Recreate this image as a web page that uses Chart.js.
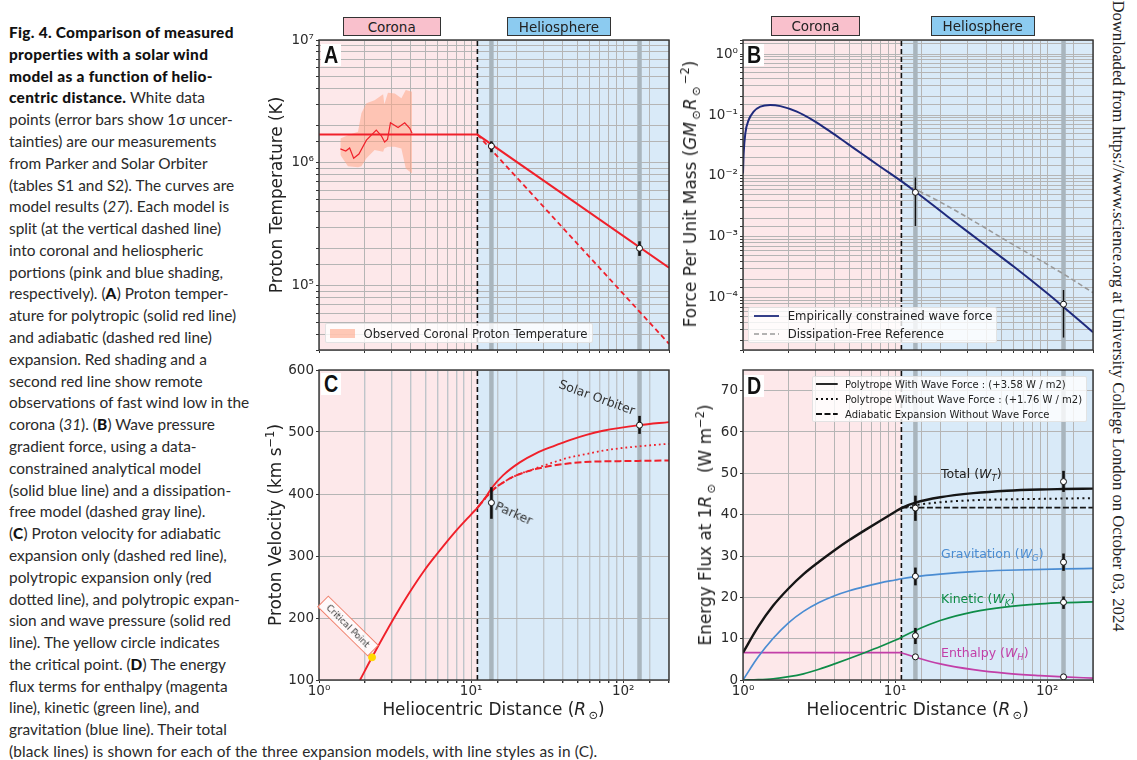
<!DOCTYPE html>
<html>
<head>
<meta charset="utf-8">
<title>Fig. 4</title>
<script src="https://cdn.jsdelivr.net/npm/chart.js@4"></script>
<style>
  html, body { margin: 0; padding: 0; background: #fff; width: 1137px; height: 760px; overflow: hidden; }
  canvas { position: absolute; }
  .lbl { position: absolute; white-space: nowrap; font-family: "DejaVu Sans", sans-serif; color: #222; transform-origin: center; z-index: 3; }
  .lbl sub, .lbl sup { font-size: 68%; line-height: 0; }
  .capline { position: absolute; left: 9px; white-space: nowrap; font-family: Lato, sans-serif; font-size: 15.4px; color: #2a2a2a; transform: translateY(-50%); }
  .capline b { color: #111; font-weight: 900; letter-spacing: 0.3px; }
  .region { position: absolute; box-sizing: border-box; border: 1px solid #333; text-align: center; font: 13.5px/18px "DejaVu Sans", sans-serif; color: #222; z-index: 3; }
  .letter { position: absolute; width: 20px; height: 22px; background: #fff; text-align: center; overflow: hidden; z-index: 3; }
  .letter span { display: block; font: bold 24px/22px "Liberation Sans", sans-serif; color: #111; transform: scaleX(0.82); }
  .legend { position: absolute; box-sizing: border-box; background: rgba(255,255,255,0.8); border: 1px solid rgba(220,220,220,0.8); border-radius: 2px; z-index: 3; }
  .legend div { position: absolute; white-space: nowrap; font-family: "DejaVu Sans", sans-serif; color: #222; transform: translateY(-50%); }
  .legend svg { position: absolute; }
</style>
</head>
<body>
<canvas id="panelA"></canvas>
<canvas id="panelB"></canvas>
<canvas id="panelC"></canvas>
<canvas id="panelD"></canvas>
<script>
// radial positions shared by all four panels (solar radii)
const xMin = 1, xMax = 200;
const splitR = 11;
const parkerR = 13.6, orbiterR = 128;

// A: proton temperature
const tempYRange = [3e4, 1e7];
const polyTempR = [1, 11, 200];
const polyTemp = [1.7e6, 1.7e6, 1.4e5];
const adiaTempR = [11, 200];
const adiaTemp = [1.7e6, 3.37e4];
const obsBandR = [1.382, 1.55, 1.805, 1.9, 2.05, 2.32, 2.64, 2.69, 2.84, 3.15, 3.48, 3.72, 4.09];
const obsBandHigh = [1.58e6, 1.68e6, 1.79e6, 2.53e6, 3.05e6, 3.24e6, 3.61e6, 3.0e6, 3.72e6, 3.67e6, 3.35e6, 3.91e6, 3.79e6];
const obsBandLow = [1.16e6, 9.4e5, 9.2e5, 9.4e5, 1.09e6, 1.27e6, 1.23e6, 1.31e6, 1.35e6, 1.35e6, 1.31e6, 9.0e5, 8.2e5];
const obsTempR = [1.382, 1.5, 1.59, 1.69, 1.83, 2.05, 2.38, 2.57, 2.7, 2.82, 2.95, 3.31, 3.66, 3.95, 4.09];
const obsTemp = [1.3e6, 1.25e6, 1.32e6, 1.09e6, 1.18e6, 1.53e6, 1.85e6, 1.66e6, 1.48e6, 1.55e6, 2.12e6, 1.94e6, 2.12e6, 1.91e6, 1.74e6];
const tempPoints = [1.37e6, 2.02e5];
const tempErrLow = [1.22e6, 1.75e5];
const tempErrHigh = [1.5e6, 2.3e5];

// B: force per unit mass
const forceYRange = [1.4e-5, 1.7];
const waveForceR = [1, 1.01, 1.036, 1.09, 1.175, 1.3, 1.51, 1.76, 2.26, 2.91, 3.75, 4.83, 6.21, 8, 11.1, 13.7, 21.9, 36.3, 60.2, 100, 128, 200];
const waveForce = [1.1e-2, 2.35e-2, 5e-2, 8.3e-2, 0.1135, 0.137, 0.146, 0.14, 0.1135, 0.081, 0.0533, 0.0343, 0.0221, 0.0142, 8.07e-3, 5.47e-3, 2.21e-3, 8.5e-4, 3.27e-4, 1.19e-4, 7.1e-5, 2.74e-5];
const freeForceR = [11.5, 13.7, 21.9, 36.3, 60.2, 100, 128, 200];
const freeForce = [7.3e-3, 6e-3, 3.26e-3, 1.57e-3, 7.4e-4, 3.56e-4, 2.47e-4, 1.22e-4];
const forcePoints = [5.4e-3, 7.9e-5];
const forceErrLow = [1.51e-3, 2.24e-5];
const forceErrHigh = [9.4e-3, 1.35e-4];

// C: proton velocity
const speedYRange = [100, 600];
const waveSpeedR = [1.861, 2.232, 3.113, 3.946, 4.95, 5.82, 7.8, 10.05, 11.1, 12.72, 13.7, 16.2, 20.9, 26.9, 34.6, 44.5, 57.3, 73.6, 128, 200];
const waveSpeed = [100, 136.6, 200, 241.4, 277.4, 300, 338.2, 367.7, 379, 398, 410, 430, 451, 466, 477, 487, 495.5, 502, 511, 516];
const polySpeedR = [11.1, 13.7, 16.6, 19.8, 24.3, 34.6, 44.5, 60.2, 73.6, 122, 200];
const polySpeed = [379, 405, 420, 430, 438, 451, 459, 465.5, 470, 476.5, 481];
const adiaSpeedR = [11.1, 13.7, 16.6, 19.8, 24.3, 27.5, 34.6, 44.5, 60.2, 94.8, 200];
const adiaSpeed = [379, 405, 420, 430, 437.5, 441, 446, 449.5, 452, 453, 454];
const speedPoints = [386, 511];
const speedErrLow = [360, 497];
const speedErrHigh = [411, 526];
const criticalR = [2.232];
const criticalSpeed = [136.6];

// D: energy flux
const fluxYRange = [0, 75];
const totalWaveR = [1, 1.26, 1.58, 2, 2.5, 3.16, 4, 5, 6.3, 8, 10, 11, 13.6, 19.8, 32.7, 54.2, 89.7, 128, 200];
const totalWave = [6.6, 12.9, 18, 22.2, 25.6, 28.6, 31.4, 33.85, 36.2, 38.55, 40.7, 41.6, 42.9, 44.2, 45.2, 45.8, 46.1, 46.2, 46.3];
const totalPolyR = [11, 13.6, 19.8, 32.7, 54.2, 128, 200];
const totalPoly = [41.7, 42.3, 43, 43.5, 43.7, 43.9, 44];
const totalAdiaR = [11, 200];
const totalAdia = [41.7, 41.7];
const gravR = [1, 1.26, 1.58, 2, 2.5, 3.16, 4, 5, 6.3, 8, 10, 11, 13.6, 19.8, 32.7, 54.2, 128, 200];
const grav = [0, 5.6, 10.1, 13.9, 16.6, 18.75, 20.4, 21.6, 22.6, 23.5, 24.2, 24.5, 25, 25.6, 26.2, 26.55, 26.9, 27];
const kineticR = [1, 1.26, 1.58, 2, 2.5, 3.16, 4, 5, 6.3, 8, 10, 11, 13.6, 19.8, 32.7, 54.2, 89.7, 128, 200];
const kinetic = [0, 0.08, 0.3, 0.8, 1.5, 2.6, 3.9, 5.2, 6.6, 8.1, 9.6, 10.3, 12, 14.4, 16.5, 17.7, 18.4, 18.7, 18.9];
const enthalpyFlatR = [1, 11];
const enthalpyFlat = [6.6, 6.6];
const enthalpyR = [11, 13.6, 19.8, 32.7, 54.2, 89.7, 128, 200];
const enthalpy = [6.6, 5.5, 3.9, 2.5, 1.6, 1.05, 0.75, 0.45];
const totalPoints = [41.6, 48];
const totalErrLow = [38.5, 45.5];
const totalErrHigh = [44.6, 50.6];
const gravPoints = [25.1, 28.5];
const gravErrLow = [22.9, 26.4];
const gravErrHigh = [27.2, 30.6];
const kineticPoints = [10.7, 18.8];
const kineticErrLow = [8.7, 17.2];
const kineticErrHigh = [12.6, 20.2];
const enthalpyPoints = [5.6, 0.75];

const captionLines = [
  '<b>Fig. 4. Comparison of measured</b>',
  '<b>properties with a solar wind</b>',
  '<b>model as a function of helio-</b>',
  '<b>centric distance.</b> White data',
  'points (error bars show 1σ uncer-',
  'tainties) are our measurements',
  'from Parker and Solar Orbiter',
  '(tables S1 and S2). The curves are',
  'model results (<i>27</i>). Each model is',
  'split (at the vertical dashed line)',
  'into coronal and heliospheric',
  'portions (pink and blue shading,',
  'respectively). (<b>A</b>) Proton temper-',
  'ature for polytropic (solid red line)',
  'and adiabatic (dashed red line)',
  'expansion. Red shading and a',
  'second red line show remote',
  'observations of fast wind low in the',
  'corona (<i>31</i>). (<b>B</b>) Wave pressure',
  'gradient force, using a data-',
  'constrained analytical model',
  '(solid blue line) and a dissipation-',
  'free model (dashed gray line).',
  '(<b>C</b>) Proton velocity for adiabatic',
  'expansion only (dashed red line),',
  'polytropic expansion only (red',
  'dotted line), and polytropic expan-',
  'sion and wave pressure (solid red',
  'line). The yellow circle indicates',
  'the critical point. (<b>D</b>) The energy',
  'flux terms for enthalpy (magenta',
  'line), kinetic (green line), and',
  'gravitation (blue line). Their total',
  '<span style="letter-spacing:0.15px">(black lines) is shown for each of the three expansion models, with line styles as in (C).</span>',
];

const RED = '#f0202a', NAVY = '#1f2a7c', GREY = '#9a9a9a', BLACK = '#151515';
const BLUE = '#4a8cd2', GREEN = '#0e8c48', MAGENTA = '#c23fa8', BAND = '#a9b5bd';
const PINK_BG = '#fde8ea', BLUE_BG = '#d9eaf8', GRID = '#b5b5b5';

function pts(xs, ys) {
  return xs.map((x, i) => ({ x, y: ys[i] }));
}

function curve(xs, ys, color, width, dash, smooth) {
  return {
    data: pts(xs, ys),
    borderColor: color,
    borderWidth: width,
    borderDash: dash || [],
    pointRadius: 0,
    fill: false,
    cubicInterpolationMode: smooth ? 'monotone' : 'default',
    tension: 0,
  };
}

function vline(x, range, color, width, dash) {
  return curve([x, x], range, color, width, dash, false);
}

// white dots at the two spacecraft distances
function dots(ys, radius) {
  return {
    data: pts([parkerR, orbiterR], ys),
    showLine: false,
    pointRadius: radius,
    pointBackgroundColor: '#fff',
    pointBorderColor: '#111',
    pointBorderWidth: 1,
  };
}

function errBars(low, high, width) {
  return [
    curve([parkerR, parkerR], [low[0], high[0]], '#111', width),
    curve([orbiterR, orbiterR], [low[1], high[1]], '#111', width),
  ];
}

function guides(range) {
  return [
    vline(splitR, range, '#111', 1.6, [5, 3]),
    vline(parkerR, range, BAND, 4.5),
    vline(orbiterR, range, BAND, 4.5),
  ];
}

const panelPlugin = {
  id: 'panel',
  beforeDraw(chart) {
    const { ctx, chartArea: a, scales } = chart;
    const split = scales.x.getPixelForValue(splitR);
    ctx.save();
    ctx.fillStyle = PINK_BG;
    ctx.fillRect(a.left, a.top, split - a.left, a.bottom - a.top);
    ctx.fillStyle = BLUE_BG;
    ctx.fillRect(split, a.top, a.right - split, a.bottom - a.top);
    ctx.restore();
  },
  afterDraw(chart) {
    const { ctx, chartArea: a } = chart;
    ctx.save();
    ctx.strokeStyle = '#333';
    ctx.lineWidth = 1.4;
    ctx.strokeRect(a.left, a.top, a.right - a.left, a.bottom - a.top);
    ctx.restore();
  },
};

const SUP = { '-': '⁻', 0: '⁰', 1: '¹', 2: '²', 3: '³', 4: '⁴', 5: '⁵', 6: '⁶', 7: '⁷' };

function powerLabel(v) {
  const e = Math.log10(v);
  if (Math.abs(e - Math.round(e)) > 1e-9) return '';
  return '10' + String(Math.round(e)).split('').map(c => SUP[c]).join('');
}

function isPower(v) {
  return powerLabel(v) !== '';
}

function makePanel(id, left, top, showX, yOpts, datasets) {
  const el = document.getElementById(id);
  const w = 60 + 350 + 10, h = 12 + 310 + 24;
  el.style.left = (left - 60) + 'px';
  el.style.top = (top - 12) + 'px';
  el.style.width = w + 'px';
  el.style.height = h + 'px';
  el.width = w;
  el.height = h;

  const tickFont = { family: 'DejaVu Sans', size: 13.5 };
  new Chart(el, {
    type: 'line',
    data: { datasets },
    plugins: [panelPlugin],
    options: {
      responsive: false,
      animation: false,
      events: [],
      layout: { padding: { left: 0, right: 10, top: 12, bottom: 0 } },
      plugins: { legend: { display: false }, tooltip: { enabled: false } },
      scales: {
        x: {
          type: 'logarithmic',
          min: xMin,
          max: xMax,
          afterFit(scale) { scale.height = 24; },
          grid: {
            color: ctx => (ctx.tick && isPower(ctx.tick.value) ? GRID : yOpts.minorX || GRID),
            lineWidth: yOpts.minorXWidth ? (ctx => (ctx.tick && isPower(ctx.tick.value) ? 1 : yOpts.minorXWidth)) : 1,
            tickColor: '#333',
            tickLength: 3,
          },
          border: { display: false },
          ticks: {
            display: showX,
            color: '#2b2b2b',
            font: tickFont,
            padding: 0,
            autoSkip: false,
            maxRotation: 0,
            callback: powerLabel,
          },
        },
        y: {
          ...yOpts.scale,
          afterFit(scale) { scale.width = 60; },
          grid: { color: GRID, tickColor: '#333', tickLength: 3, lineWidth: 1 },
          border: { display: false },
          ticks: {
            color: '#2b2b2b',
            font: tickFont,
            padding: 2,
            autoSkip: false,
            includeBounds: false,
            maxRotation: 0,
            ...(yOpts.ticks || {}),
          },
        },
      },
    },
  });
}

const LEFT_X = 319.3, RIGHT_X = 742.7, TOP_Y = 40, LOW_Y = 369.6;

makePanel('panelA', LEFT_X, TOP_Y, false, {
  scale: { type: 'logarithmic', min: tempYRange[0], max: tempYRange[1] },
  ticks: { callback: powerLabel },
}, [
  dots(tempPoints, 3),
  ...errBars(tempErrLow, tempErrHigh, 2.6),
  curve(polyTempR, polyTemp, RED, 2),
  curve(adiaTempR, adiaTemp, RED, 1.8, [5, 3.5]),
  curve(obsTempR, obsTemp, RED, 1.2),
  { ...curve(obsBandR, obsBandHigh, 'rgba(0,0,0,0)', 0), fill: '+1', backgroundColor: 'rgba(255,165,135,0.55)' },
  curve(obsBandR, obsBandLow, 'rgba(0,0,0,0)', 0),
  ...guides(tempYRange),
]);

makePanel('panelB', RIGHT_X, TOP_Y, false, {
  scale: { type: 'logarithmic', min: forceYRange[0], max: forceYRange[1] },
  ticks: { callback: powerLabel },
}, [
  dots(forcePoints, 3),
  ...errBars(forceErrLow, forceErrHigh, 1.4),
  curve(waveForceR, waveForce, NAVY, 2, null, true),
  curve(freeForceR, freeForce, GREY, 1.6, [5, 3], true),
  ...guides(forceYRange),
]);

makePanel('panelC', LEFT_X, LOW_Y, true, {
  scale: { type: 'linear', min: speedYRange[0], max: speedYRange[1] },
  ticks: { stepSize: 100 },
  minorX: '#bfc5ca',
  minorXWidth: 1.4,
}, [
  dots(speedPoints, 3),
  ...errBars(speedErrLow, speedErrHigh, 2.6),
  { data: pts(criticalR, criticalSpeed), showLine: false, pointRadius: 3.5, pointBackgroundColor: '#ffd800', pointBorderColor: '#ffd800' },
  curve(waveSpeedR, waveSpeed, RED, 1.9, null, true),
  curve(polySpeedR, polySpeed, RED, 1.8, [1.8, 3], true),
  curve(adiaSpeedR, adiaSpeed, RED, 2, [7, 3], true),
  ...guides(speedYRange),
]);

makePanel('panelD', RIGHT_X, LOW_Y, true, {
  scale: { type: 'linear', min: fluxYRange[0], max: fluxYRange[1] },
  ticks: { stepSize: 10 },
}, [
  dots(totalPoints, 3),
  dots(gravPoints, 3),
  dots(kineticPoints, 3),
  dots(enthalpyPoints, 3),
  ...errBars(totalErrLow, totalErrHigh, 2.6),
  ...errBars(gravErrLow, gravErrHigh, 2.6),
  ...errBars(kineticErrLow, kineticErrHigh, 2.6),
  curve(totalWaveR, totalWave, BLACK, 2.4, null, true),
  curve(totalPolyR, totalPoly, BLACK, 2, [2, 3.5], true),
  curve(totalAdiaR, totalAdia, BLACK, 1.8, [6, 2.5]),
  curve(gravR, grav, BLUE, 1.7, null, true),
  curve(kineticR, kinetic, GREEN, 1.7, null, true),
  curve(enthalpyFlatR, enthalpyFlat, MAGENTA, 1.7),
  curve(enthalpyR, enthalpy, MAGENTA, 1.7, null, true),
  ...guides(fluxYRange),
]);

// text around the plots
function label(html, x, y, size, rot, color, style) {
  const d = document.createElement('div');
  d.className = 'lbl';
  d.innerHTML = html;
  d.style.left = x + 'px';
  d.style.top = y + 'px';
  d.style.fontSize = size + 'px';
  d.style.transform = 'translate(-50%,-50%) rotate(' + (rot || 0) + 'deg)';
  if (color) d.style.color = color;
  if (style) d.style.cssText += style;
  document.body.appendChild(d);
  return d;
}

function labelLeft(html, x, y, size, color) {
  const d = label(html, x, y, size, 0, color);
  d.style.transform = 'translateY(-50%)';
  return d;
}

function regionBox(text, x, y, w, h, bg) {
  const d = document.createElement('div');
  d.className = 'region';
  d.textContent = text;
  d.style.cssText += `left:${x}px;top:${y}px;width:${w}px;height:${h}px;background:${bg}`;
  document.body.appendChild(d);
}

function letter(text, x, y) {
  const d = document.createElement('div');
  d.className = 'letter';
  d.innerHTML = '<span>' + text + '</span>';
  d.style.left = x + 'px';
  d.style.top = y + 'px';
  document.body.appendChild(d);
}

function legendBox(x, y, w, h, rows, size, sampleX, sampleW, textX) {
  const box = document.createElement('div');
  box.className = 'legend';
  box.style.cssText += `left:${x}px;top:${y}px;width:${w}px;height:${h}px`;
  rows.forEach(r => {
    if (r.patch) {
      const p = document.createElement('span');
      p.style.cssText = `position:absolute;left:${sampleX}px;top:${r.y - 4.5}px;width:${sampleW}px;height:9px;background:${r.patch}`;
      box.appendChild(p);
    } else {
      const ns = 'http://www.w3.org/2000/svg';
      const s = document.createElementNS(ns, 'svg');
      s.setAttribute('width', sampleW);
      s.setAttribute('height', 6);
      s.style.left = sampleX + 'px';
      s.style.top = (r.y - 3) + 'px';
      const l = document.createElementNS(ns, 'line');
      l.setAttribute('x1', 0); l.setAttribute('x2', sampleW);
      l.setAttribute('y1', 3); l.setAttribute('y2', 3);
      l.setAttribute('stroke', r.color);
      l.setAttribute('stroke-width', r.width);
      if (r.dash) l.setAttribute('stroke-dasharray', r.dash);
      s.appendChild(l);
      box.appendChild(s);
    }
    const t = document.createElement('div');
    t.textContent = r.text;
    t.style.cssText += `left:${textX}px;top:${r.y}px;font-size:${size}px`;
    box.appendChild(t);
  });
  document.body.appendChild(box);
}

captionLines.forEach((html, i) => {
  const d = document.createElement('div');
  d.className = 'capline';
  d.innerHTML = html;
  d.style.top = (32 + i * 21.79) + 'px';
  document.body.appendChild(d);
});

regionBox('Corona', 342.7, 16.7, 98, 19.5, '#f9c0cc');
regionBox('Heliosphere', 506.7, 16.7, 104.5, 19.5, '#8ccbf0');
regionBox('Corona', 770.7, 16, 89.5, 19.7, '#f9c0cc');
regionBox('Heliosphere', 930.7, 16, 104, 19.7, '#8ccbf0');

letter('A', 320.5, 44);
letter('B', 743.5, 44);
letter('C', 320.5, 373);
letter('D', 743.5, 375);

const R_SUN = '<i>R</i><sub>&thinsp;⊙</sub>';
label('Proton Temperature (K)', 276, 194.7, 16.9, -90);
label('Force Per Unit Mass (<i>GM</i><sub>&thinsp;⊙</sub><i>R</i><sub>&thinsp;⊙</sub><sup>&thinsp;−2</sup>)', 690, 194, 16.9, -90);
label('Proton Velocity (km s<sup>−1</sup>)', 275, 525, 16.9, -90);
label('Energy Flux at 1<i>R</i><sub>&thinsp;⊙</sub>&nbsp; (W m<sup>−2</sup>)', 705, 525, 16.9, -90);
label('Heliocentric Distance (' + R_SUN + ')', 493.5, 709, 16.9);
label('Heliocentric Distance (' + R_SUN + ')', 917.7, 709, 16.9);

label('Solar Orbiter', 597, 397, 12.5, 20, '#333');
label('Parker', 514, 513, 12.5, 24, '#333');
label('Critical Point', 348, 626, 9, 44.5, '#333',
  'width:71px;height:16px;line-height:15px;text-align:center;box-sizing:border-box;background:rgba(255,255,255,0.75);border:1px solid #f0806c');

labelLeft('Total (<i>W<sub>T</sub></i>)', 941, 472.7, 12.5, '#222');
labelLeft('Gravitation (<i>W<sub>G</sub></i>)', 941, 553, 12.5, BLUE);
labelLeft('Kinetic (<i>W<sub>K</sub></i>)', 941, 598, 12.5, GREEN);
labelLeft('Enthalpy (<i>W<sub>H</sub></i>)', 941, 652, 12.5, MAGENTA);

legendBox(325, 323.3, 268.3, 20, [
  { patch: 'rgba(255,165,135,0.6)', y: 9.5, text: 'Observed Coronal Proton Temperature' },
], 11.7, 4, 25, 37.5);
legendBox(748.3, 306.7, 249, 36.6, [
  { color: NAVY, width: 1.8, y: 8.6, text: 'Empirically constrained wave force' },
  { color: GREY, width: 1.5, dash: '5 3', y: 26, text: 'Dissipation-Free Reference' },
], 11.7, 4.4, 25, 38.4);
legendBox(811.7, 376, 275.6, 46.3, [
  { color: '#111', width: 1.8, y: 7.3, text: 'Polytrope With Wave Force : (+3.58 W / m2)' },
  { color: '#111', width: 1.8, dash: '2 3', y: 22, text: 'Polytrope Without Wave Force : (+1.76 W / m2)' },
  { color: '#111', width: 1.8, dash: '6 2.5', y: 37, text: 'Adiabatic Expansion Without Wave Force' },
], 10, 3.3, 21.7, 32.3);

label('Downloaded from https://www.science.org at University College London on October 03, 2024', 1118, 316, 16.7, 90, '#222',
  'font-family:"Liberation Serif",serif');
</script>
</body>
</html>
